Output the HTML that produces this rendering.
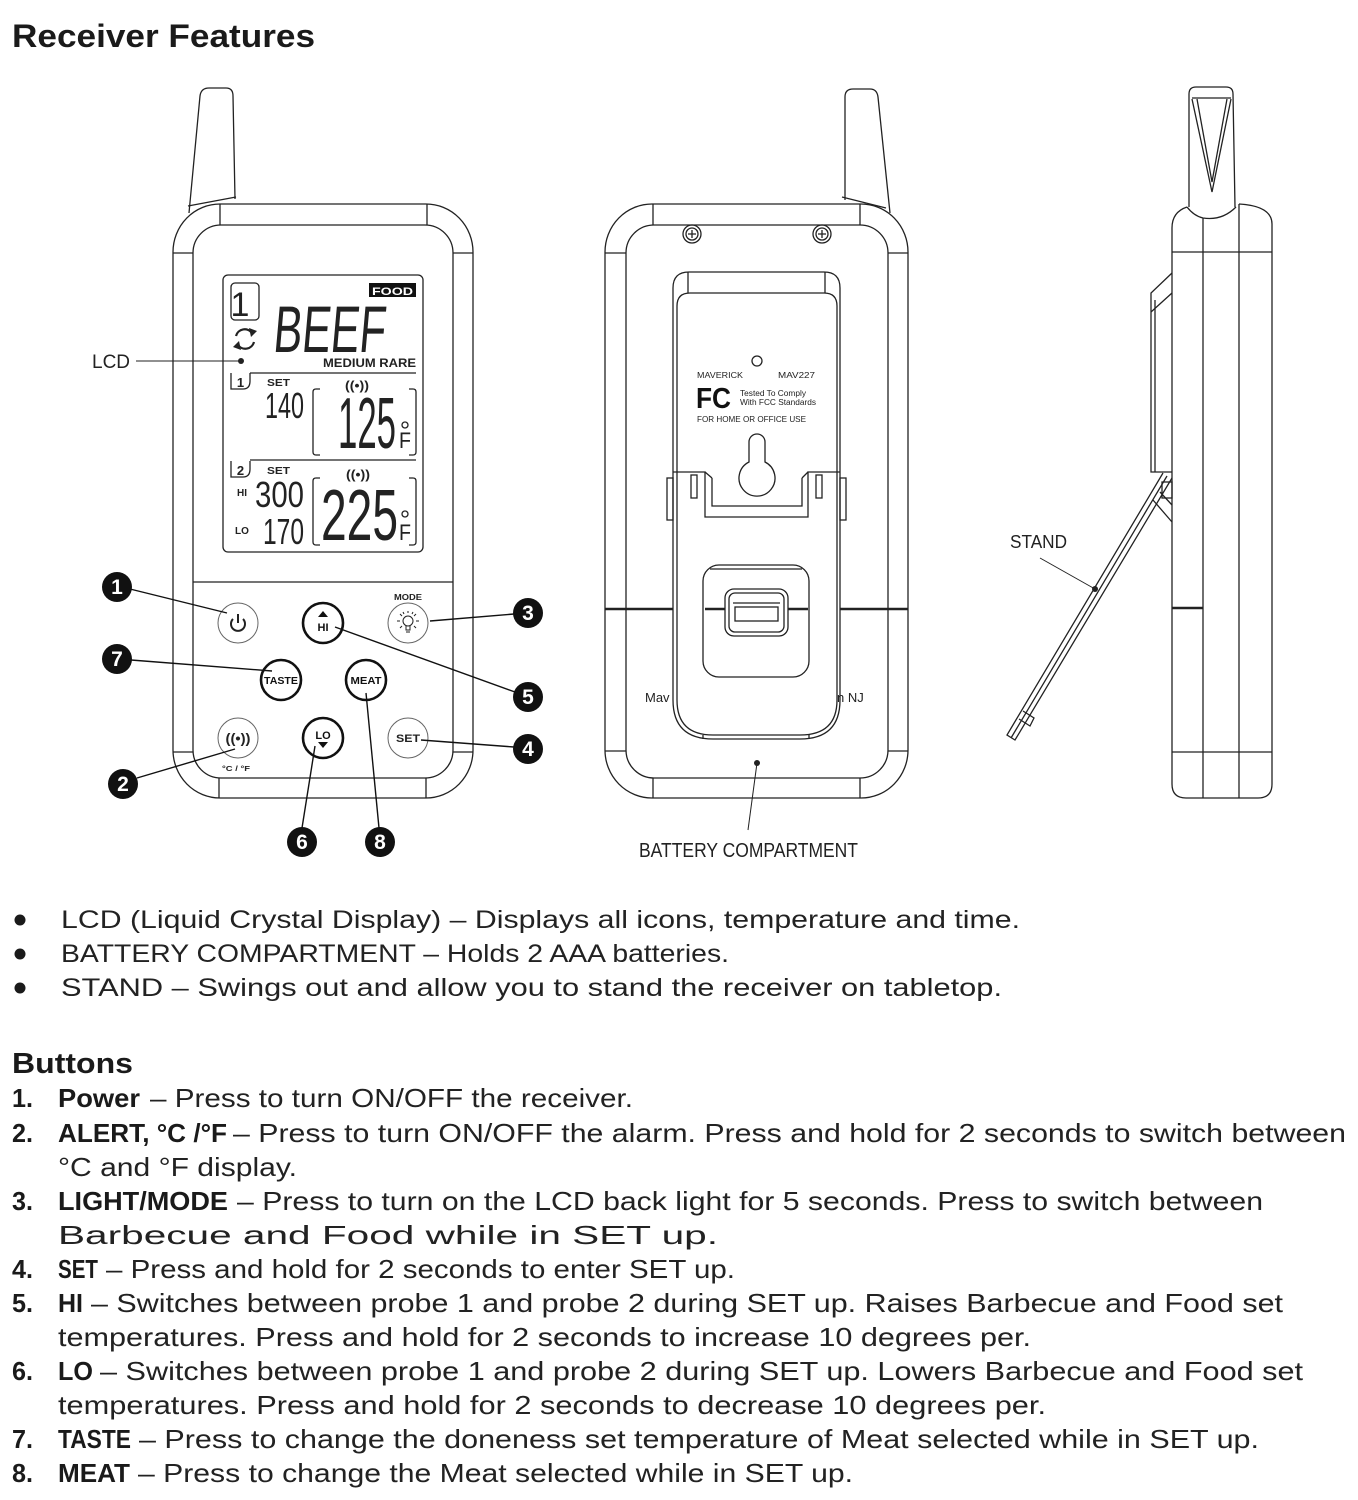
<!DOCTYPE html>
<html><head><meta charset="utf-8"><style>
html,body{margin:0;padding:0;background:#fff;}
svg{display:block;}
text{font-family:"Liberation Sans",sans-serif;}
</style></head><body>
<svg width="1358" height="1500" viewBox="0 0 1358 1500" xmlns="http://www.w3.org/2000/svg">
<rect width="1358" height="1500" fill="#fff"/>

<!-- Title -->
<text x="12" y="47" font-size="32" font-weight="bold" fill="#1a1a1a" textLength="303" lengthAdjust="spacingAndGlyphs">Receiver Features</text>

<!-- ================= FRONT DEVICE ================= -->
<g fill="none" stroke="#222" stroke-width="1.3">
  <!-- antenna -->
  <path d="M189,213 L200,96 Q201,88 209,88 L226,88 Q233,88 233,96 L235,199"/>
  <path d="M188,206 L236,197"/>
  <!-- body -->
  <rect x="173" y="204" width="300" height="594" rx="47" ry="48" fill="#fff"/>
  <rect x="193" y="225" width="260" height="553" rx="28" ry="28"/>
  <path d="M220,204 V225 M427,204 V225 M219,778 V798 M426,778 V798 M173,253 H193 M453,253 H473 M173,752 H193 M453,752 H473"/>
  <path d="M193,582 H453"/>
  <!-- LCD -->
  <rect x="223" y="275" width="200" height="277" rx="5"/>
  <rect x="231" y="283" width="28" height="37" rx="4"/>
  <path d="M250,373 H416 M250,460 H416"/>
  <path d="M231,373 V389 H243 Q250,389 250,381 V373"/>
  <path d="M231,461 V477 H243 Q250,477 250,469 V461"/>
  <!-- brackets -->
  <path d="M320,389 H316 Q313,389 313,392 V452 Q313,455 316,455 H320"/>
  <path d="M409,389 H413 Q416,389 416,392 V452 Q416,455 413,455 H409"/>
  <path d="M320,478 H316 Q313,478 313,481 V542 Q313,545 316,545 H320"/>
  <path d="M409,478 H413 Q416,478 416,481 V542 Q416,545 413,545 H409"/>
  <circle cx="405" cy="425" r="3"/>
  <circle cx="405" cy="514" r="3"/>
  <!-- refresh icon -->
  <path d="M236,336 A9,9 0 0 1 252,333" stroke-width="2.2"/>
  <path d="M254,342 A9,9 0 0 1 238,345" stroke-width="2.2"/>
</g>
<polygon points="249,328 257,331 251,337" fill="#222"/>
<polygon points="241,350 233,347 239,341" fill="#222"/>
<circle cx="241" cy="361" r="3" fill="#222"/>
<rect x="369" y="283" width="47" height="14" fill="#111"/>
<text x="392.5" y="295" font-size="11" font-weight="bold" fill="#fff" text-anchor="middle" textLength="41" lengthAdjust="spacingAndGlyphs">FOOD</text>
<text x="240" y="316" font-size="34" fill="#222" text-anchor="middle">1</text>
<text x="273" y="352" font-size="66" fill="#222" textLength="112" lengthAdjust="spacingAndGlyphs" transform="skewX(-5) translate(30,0)">BEEF</text>
<text x="323" y="367" font-size="12" font-weight="bold" fill="#222" textLength="93" lengthAdjust="spacingAndGlyphs">MEDIUM RARE</text>
<text x="240.5" y="387" font-size="13" font-weight="bold" fill="#222" text-anchor="middle">1</text>
<text x="240.5" y="475" font-size="13" font-weight="bold" fill="#222" text-anchor="middle">2</text>
<text x="267" y="386" font-size="10" font-weight="bold" fill="#222" textLength="23" lengthAdjust="spacingAndGlyphs">SET</text>
<text x="267" y="474" font-size="10" font-weight="bold" fill="#222" textLength="23" lengthAdjust="spacingAndGlyphs">SET</text>
<text x="345" y="390" font-size="13" font-weight="bold" fill="#222" textLength="24" lengthAdjust="spacingAndGlyphs">((•))</text>
<text x="346" y="479" font-size="13" font-weight="bold" fill="#222" textLength="24" lengthAdjust="spacingAndGlyphs">((•))</text>
<text x="265" y="418" font-size="36" fill="#222" textLength="39" lengthAdjust="spacingAndGlyphs">140</text>
<text x="338" y="448" font-size="72" fill="#222" textLength="58" lengthAdjust="spacingAndGlyphs">125</text>
<text x="399" y="448" font-size="22" fill="#222" textLength="12" lengthAdjust="spacingAndGlyphs">F</text>
<text x="237" y="496" font-size="10" font-weight="bold" fill="#222">HI</text>
<text x="255" y="507" font-size="36" fill="#222" textLength="49" lengthAdjust="spacingAndGlyphs">300</text>
<text x="235" y="534" font-size="10" font-weight="bold" fill="#222">LO</text>
<text x="263" y="544" font-size="36" fill="#222" textLength="41" lengthAdjust="spacingAndGlyphs">170</text>
<text x="321" y="540" font-size="72" fill="#222" textLength="77" lengthAdjust="spacingAndGlyphs">225</text>
<text x="399" y="540" font-size="22" fill="#222" textLength="12" lengthAdjust="spacingAndGlyphs">F</text>

<!-- LCD label -->
<text x="92" y="368" font-size="19" fill="#222" textLength="38" lengthAdjust="spacingAndGlyphs">LCD</text>
<path d="M136,361 H241" stroke="#222" stroke-width="1"/>

<!-- buttons -->
<g fill="#fff">
  <circle cx="238" cy="623" r="20" stroke="#666" stroke-width="1"/>
  <circle cx="408" cy="623" r="20" stroke="#666" stroke-width="1"/>
  <circle cx="238" cy="738" r="20" stroke="#666" stroke-width="1"/>
  <circle cx="408" cy="738" r="20" stroke="#666" stroke-width="1"/>
  <circle cx="323" cy="623" r="20" stroke="#111" stroke-width="2.6"/>
  <circle cx="281" cy="680" r="20" stroke="#111" stroke-width="2.6"/>
  <circle cx="366" cy="680" r="20" stroke="#111" stroke-width="2.6"/>
  <circle cx="323" cy="738" r="20" stroke="#111" stroke-width="2.6"/>
</g>
<!-- power icon -->
<path d="M233,619 A7,7 0 1 0 243,619" fill="none" stroke="#222" stroke-width="2"/>
<path d="M238,614 V623" stroke="#222" stroke-width="2"/>
<!-- HI -->
<polygon points="323,611 328,617 318,617" fill="#111"/>
<text x="323" y="631" font-size="11" font-weight="bold" fill="#111" text-anchor="middle">HI</text>
<!-- MODE -->
<text x="408" y="600" font-size="8" font-weight="bold" fill="#222" text-anchor="middle" textLength="28" lengthAdjust="spacingAndGlyphs">MODE</text>
<g stroke="#222" stroke-width="1" fill="none">
  <circle cx="408" cy="621" r="5"/>
  <path d="M406,626 V630 H410 V626 M406,632 H410"/>
  <path d="M408,611 V613 M400,614 L402,616 M416,614 L414,616 M397,621 H400 M416,621 H419 M400,628 L402,626 M416,628 L414,626 M403,612 L404,614 M413,612 L412,614"/>
</g>
<!-- TASTE / MEAT -->
<text x="281" y="684" font-size="10" font-weight="bold" fill="#111" text-anchor="middle" textLength="34" lengthAdjust="spacingAndGlyphs">TASTE</text>
<text x="366" y="684" font-size="10" font-weight="bold" fill="#111" text-anchor="middle" textLength="31" lengthAdjust="spacingAndGlyphs">MEAT</text>
<!-- alert -->
<text x="238" y="743" font-size="14" font-weight="bold" fill="#222" text-anchor="middle" textLength="25" lengthAdjust="spacingAndGlyphs">((•))</text>
<text x="236" y="771" font-size="7.5" font-weight="bold" fill="#222" text-anchor="middle" textLength="28" lengthAdjust="spacingAndGlyphs">°C / °F</text>
<!-- LO -->
<text x="323" y="739" font-size="11" font-weight="bold" fill="#111" text-anchor="middle">LO</text>
<polygon points="318,742 328,742 323,748" fill="#111"/>
<!-- SET -->
<text x="408" y="742" font-size="11" font-weight="bold" fill="#222" text-anchor="middle" textLength="24" lengthAdjust="spacingAndGlyphs">SET</text>

<!-- leader lines -->
<g stroke="#111" stroke-width="1.4" fill="none">
  <path d="M130,589 L227,613"/>
  <path d="M430,621 L514,614"/>
  <path d="M131,660 L272,671"/>
  <path d="M335,627 L515,692"/>
  <path d="M137,778 L235,749"/>
  <path d="M421,740 L514,747"/>
  <path d="M315,746 L302,828"/>
  <path d="M366,693 L379,828"/>
</g>
<g fill="#111">
  <circle cx="117" cy="587" r="15"/>
  <circle cx="528" cy="613" r="15"/>
  <circle cx="117" cy="659" r="15"/>
  <circle cx="528" cy="697" r="15"/>
  <circle cx="123" cy="784" r="15"/>
  <circle cx="528" cy="749" r="15"/>
  <circle cx="302" cy="842" r="15"/>
  <circle cx="380" cy="842" r="15"/>
</g>
<g fill="#fff" font-size="21" font-weight="bold" text-anchor="middle">
  <text x="117" y="594">1</text>
  <text x="528" y="620">3</text>
  <text x="117" y="666">7</text>
  <text x="528" y="704">5</text>
  <text x="123" y="791">2</text>
  <text x="528" y="756">4</text>
  <text x="302" y="849">6</text>
  <text x="380" y="849">8</text>
</g>

<!-- ================= BACK DEVICE ================= -->
<g fill="none" stroke="#222" stroke-width="1.3">
  <path d="M845,200 L845,97 Q845,89 853,89 L870,89 Q877,89 878,97 L890,213"/>
  <path d="M842,197 L886,208"/>
  <rect x="605" y="204" width="303" height="594" rx="47" ry="48" fill="#fff"/>
  <rect x="626" y="225" width="262" height="553" rx="28" ry="28"/>
  <path d="M653,204 V225 M860,204 V225 M653,778 V798 M860,778 V798 M605,253 H626 M888,253 H908 M605,751 H626 M888,751 H908"/>
  <!-- screws -->
  <circle cx="692" cy="234" r="9"/><circle cx="692" cy="234" r="6"/>
  <path d="M692,230 V238 M688,234 H696"/>
  <circle cx="822" cy="234" r="9"/><circle cx="822" cy="234" r="6"/>
  <path d="M822,230 V238 M818,234 H826"/>
</g>
<!-- divider line -->
<g stroke="#222" stroke-width="2.6">
  <path d="M605,609 H673 M840,609 H908"/>
</g>
<g fill="none" stroke="#222" stroke-width="1.3">
  <!-- clip -->
  <path d="M673,700 V288 Q673,272 689,272 H824 Q840,272 840,288 V700 Q840,739 800,739 H713 Q673,739 673,700 Z" fill="#fff"/>
  <path d="M677,700 V306 Q677,293 690,293 H824 Q837,293 837,306 V700 Q837,735 800,735 H713 Q677,735 677,700"/>
  <path d="M688,272 V293 M825,272 V293 M703,739 V735 M809,739 V735"/>
  <circle cx="757" cy="361" r="5"/>
  <path d="M749,462 V442 A8,8 0 0 1 765,442 V462 A18,18 0 1 1 749,462 Z"/>
  <!-- lower clip bracket -->
  <path d="M673,472 H705 V517 H808 V472 H840"/>
  <path d="M712,478 V506 H802 V478"/>
  <path d="M705,472 L712,478 M808,472 L802,478"/>
  <rect x="667" y="478" width="6" height="42"/>
  <rect x="840" y="478" width="6" height="42"/>
  <rect x="691" y="475" width="6" height="23"/>
  <rect x="816" y="475" width="6" height="23"/>
  <!-- latch -->
  <rect x="703" y="565" width="106" height="112" rx="16"/>
  <path d="M710,569 H802"/>
</g>
<path d="M705,609 H808" stroke="#222" stroke-width="2.6"/>
<g fill="none" stroke="#222" stroke-width="1.3">
  <rect x="725" y="589" width="63" height="47" rx="9" fill="#fff"/>
  <rect x="729" y="593" width="55" height="39" rx="6"/>
  <rect x="735" y="607" width="43" height="14"/>
  <path d="M733,603 H780"/>
</g>
<text x="697" y="378" font-size="8.5" fill="#222" textLength="46" lengthAdjust="spacingAndGlyphs">MAVERICK</text>
<text x="778" y="378" font-size="8.5" fill="#222" textLength="37" lengthAdjust="spacingAndGlyphs">MAV227</text>
<text x="696" y="408" font-size="29" font-weight="bold" fill="#111" textLength="35" lengthAdjust="spacingAndGlyphs">FC</text>
<text x="740" y="396" font-size="8" fill="#222" textLength="66" lengthAdjust="spacingAndGlyphs">Tested To Comply</text>
<text x="740" y="405" font-size="8" fill="#222" textLength="76" lengthAdjust="spacingAndGlyphs">With FCC Standards</text>
<text x="697" y="422" font-size="8.5" fill="#222" textLength="109" lengthAdjust="spacingAndGlyphs">FOR HOME OR OFFICE USE</text>
<text x="645" y="702" font-size="13" fill="#222">Mav</text>
<text x="837" y="702" font-size="13" fill="#222">n NJ</text>
<circle cx="757" cy="763" r="3" fill="#222"/>
<path d="M757,763 L748,830" stroke="#222" stroke-width="1"/>
<text x="639" y="857" font-size="20" fill="#222" textLength="219" lengthAdjust="spacingAndGlyphs">BATTERY COMPARTMENT</text>

<!-- ================= SIDE DEVICE ================= -->
<g fill="none" stroke="#222" stroke-width="1.3">
  <!-- antenna -->
  <path d="M1189,207 L1189,94 Q1189,87 1196,87 L1226,87 Q1233,87 1233,94 L1235,207"/>
  <path d="M1192,98 H1231"/>
  <path d="M1192,99 L1212,192 L1231,99"/>
  <path d="M1197,99 L1212,182 L1227,99"/>
  <!-- body -->
  <path d="M1187,207 Q1172,212 1172,228 V784 Q1172,798 1186,798 H1258 Q1272,798 1272,784 V224 Q1272,206 1239,204"/>
  <path d="M1187,207 Q1194,216 1203,218 Q1222,221 1236,207"/>
  <path d="M1203,218 V798 M1239,204 V798"/>
  <path d="M1172,252 H1272 M1172,752 H1272"/>
  <!-- stand back piece -->
  <path d="M1172,273 L1151,293 V472 H1172"/>
  <path d="M1151,312 L1172,293"/>
  <path d="M1155,300 V472"/>
  <!-- leg -->
  <path d="M1163,473 L1007,735 L1015,740 L1172,478"/>
  <path d="M1167,476 L1011,738"/>
  <path d="M1023,711 L1034,718 L1030,726 L1019,719"/>
  <path d="M1153,500 L1172,522 M1160,492 L1172,505"/>
  <rect x="1162" y="482" width="10" height="16"/>
</g>
<path d="M1172,608 H1203" stroke="#222" stroke-width="2.6"/>
<text x="1010" y="548" font-size="18" fill="#222" textLength="57" lengthAdjust="spacingAndGlyphs">STAND</text>
<path d="M1040,558 L1095,589" stroke="#222" stroke-width="1"/>
<circle cx="1095" cy="589" r="3" fill="#222"/>

<!-- ================= BULLETS ================= -->
<g fill="#1a1a1a">
  <circle cx="20" cy="920" r="5.5"/>
  <circle cx="20" cy="954" r="5.5"/>
  <circle cx="20" cy="988" r="5.5"/>
</g>
<g font-size="25" fill="#222">
  <text x="61" y="928" textLength="959" lengthAdjust="spacingAndGlyphs">LCD (Liquid Crystal Display) – Displays all icons, temperature and time.</text>
  <text x="61" y="962" textLength="668" lengthAdjust="spacingAndGlyphs">BATTERY COMPARTMENT – Holds 2 AAA batteries.</text>
  <text x="61" y="996" textLength="941" lengthAdjust="spacingAndGlyphs">STAND – Swings out and allow you to stand the receiver on tabletop.</text>
</g>

<!-- ================= BUTTONS LIST ================= -->
<text x="12" y="1073" font-size="29" font-weight="bold" fill="#1a1a1a" textLength="121" lengthAdjust="spacingAndGlyphs">Buttons</text>

<g font-size="26" font-weight="bold" fill="#1a1a1a">
  <text x="12" y="1107" textLength="21" lengthAdjust="spacingAndGlyphs">1.</text>
  <text x="12" y="1142" textLength="21" lengthAdjust="spacingAndGlyphs">2.</text>
  <text x="12" y="1210" textLength="21" lengthAdjust="spacingAndGlyphs">3.</text>
  <text x="12" y="1278" textLength="21" lengthAdjust="spacingAndGlyphs">4.</text>
  <text x="12" y="1312" textLength="21" lengthAdjust="spacingAndGlyphs">5.</text>
  <text x="12" y="1380" textLength="21" lengthAdjust="spacingAndGlyphs">6.</text>
  <text x="12" y="1448" textLength="21" lengthAdjust="spacingAndGlyphs">7.</text>
  <text x="12" y="1482" textLength="21" lengthAdjust="spacingAndGlyphs">8.</text>

  <text x="58" y="1107" textLength="82" lengthAdjust="spacingAndGlyphs">Power</text>
  <text x="58" y="1142" textLength="169" lengthAdjust="spacingAndGlyphs">ALERT, °C /°F</text>
  <text x="58" y="1210" textLength="170" lengthAdjust="spacingAndGlyphs">LIGHT/MODE</text>
  <text x="58" y="1278" textLength="40" lengthAdjust="spacingAndGlyphs">SET</text>
  <text x="58" y="1312" textLength="25" lengthAdjust="spacingAndGlyphs">HI</text>
  <text x="58" y="1380" textLength="35" lengthAdjust="spacingAndGlyphs">LO</text>
  <text x="58" y="1448" textLength="73" lengthAdjust="spacingAndGlyphs">TASTE</text>
  <text x="58" y="1482" textLength="72" lengthAdjust="spacingAndGlyphs">MEAT</text>
</g>
<g font-size="26" fill="#222">
  <text x="150" y="1107" textLength="483" lengthAdjust="spacingAndGlyphs">– Press to turn ON/OFF the receiver.</text>
  <text x="233" y="1142" textLength="1113" lengthAdjust="spacingAndGlyphs">– Press to turn ON/OFF the alarm. Press and hold for 2 seconds to switch between</text>
  <text x="58" y="1176" textLength="239" lengthAdjust="spacingAndGlyphs">°C and °F display.</text>
  <text x="237" y="1210" textLength="1026" lengthAdjust="spacingAndGlyphs">– Press to turn on the LCD back light for 5 seconds. Press to switch between</text>
  <text x="58" y="1244" textLength="660" lengthAdjust="spacingAndGlyphs">Barbecue and Food while in SET up.</text>
  <text x="106" y="1278" textLength="629" lengthAdjust="spacingAndGlyphs">– Press and hold for 2 seconds to enter SET up.</text>
  <text x="91" y="1312" textLength="1192" lengthAdjust="spacingAndGlyphs">– Switches between probe 1 and probe 2 during SET up. Raises Barbecue and Food set</text>
  <text x="58" y="1346" textLength="973" lengthAdjust="spacingAndGlyphs">temperatures. Press and hold for 2 seconds to increase 10 degrees per.</text>
  <text x="100" y="1380" textLength="1203" lengthAdjust="spacingAndGlyphs">– Switches between probe 1 and probe 2 during SET up. Lowers Barbecue and Food set</text>
  <text x="58" y="1414" textLength="988" lengthAdjust="spacingAndGlyphs">temperatures. Press and hold for 2 seconds to decrease 10 degrees per.</text>
  <text x="139" y="1448" textLength="1120" lengthAdjust="spacingAndGlyphs">– Press to change the doneness set temperature of Meat selected while in SET up.</text>
  <text x="138" y="1482" textLength="715" lengthAdjust="spacingAndGlyphs">– Press to change the Meat selected while in SET up.</text>
</g>
</svg>
</body></html>
